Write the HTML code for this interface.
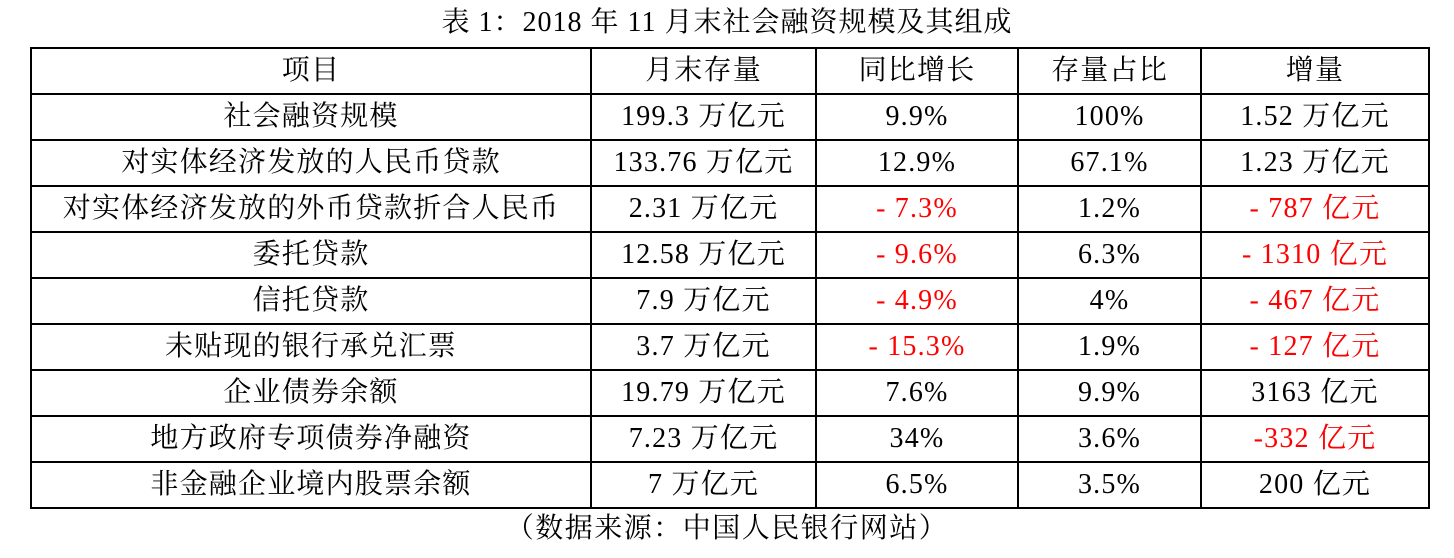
<!DOCTYPE html>
<html><head><meta charset="utf-8"><style>
body{margin:0;width:1454px;height:558px;background:#fff;font-family:"Liberation Serif","Noto Serif CJK SC",serif;color:#000;position:relative;overflow:hidden}
.t{position:absolute;top:4px;left:0;width:1454px;text-align:center;font-size:28px;letter-spacing:1px;line-height:38px}
.s{position:absolute;top:506px;left:0;width:1454px;text-align:center;font-size:28px;letter-spacing:1.5px;line-height:46px}
table{position:absolute;left:30px;top:47px;border-collapse:collapse;font-size:28px;letter-spacing:1.2px}
td{border:2px solid #000;height:44px;padding:0;text-align:center;line-height:44px;white-space:nowrap}
.r{color:#f00}
</style></head><body>
<div class="t">表 1：2018 年 11 月末社会融资规模及其组成</div>
<table>
<colgroup><col style="width:560px"><col style="width:225px"><col style="width:202px"><col style="width:183px"><col style="width:228px"></colgroup>
<tr><td>项目</td><td>月末存量</td><td>同比增长</td><td>存量占比</td><td>增量</td></tr>
<tr><td>社会融资规模</td><td>199.3 万亿元</td><td>9.9%</td><td>100%</td><td>1.52 万亿元</td></tr>
<tr><td>对实体经济发放的人民币贷款</td><td>133.76 万亿元</td><td>12.9%</td><td>67.1%</td><td>1.23 万亿元</td></tr>
<tr><td>对实体经济发放的外币贷款折合人民币</td><td>2.31 万亿元</td><td class="r">- 7.3%</td><td>1.2%</td><td class="r">- 787 亿元</td></tr>
<tr><td>委托贷款</td><td>12.58 万亿元</td><td class="r">- 9.6%</td><td>6.3%</td><td class="r">- 1310 亿元</td></tr>
<tr><td>信托贷款</td><td>7.9 万亿元</td><td class="r">- 4.9%</td><td>4%</td><td class="r">- 467 亿元</td></tr>
<tr><td>未贴现的银行承兑汇票</td><td>3.7 万亿元</td><td class="r">- 15.3%</td><td>1.9%</td><td class="r">- 127 亿元</td></tr>
<tr><td>企业债券余额</td><td>19.79 万亿元</td><td>7.6%</td><td>9.9%</td><td>3163 亿元</td></tr>
<tr><td>地方政府专项债券净融资</td><td>7.23 万亿元</td><td>34%</td><td>3.6%</td><td class="r">-332 亿元</td></tr>
<tr><td>非金融企业境内股票余额</td><td>7 万亿元</td><td>6.5%</td><td>3.5%</td><td>200 亿元</td></tr>
</table>
<div class="s">（数据来源：中国人民银行网站）</div>
</body></html>
